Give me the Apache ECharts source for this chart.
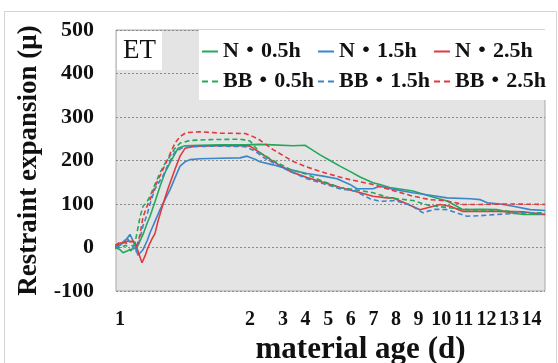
<!DOCTYPE html>
<html>
<head>
<meta charset="utf-8">
<title>ET restraint expansion</title>
<script src="https://cdn.jsdelivr.net/npm/echarts@6.0.0/dist/echarts.min.js"></script>
<style>
  html, body { margin: 0; padding: 0; background: #fff; }
  #main { width: 558px; height: 363px; }
</style>
</head>
<body>
<div id="main"></div>
<script type="text/javascript">
    // 数据: 材龄 (d) 与 拘束膨胀 (μ)
    var seriesNames = ['N・0.5h', 'N・1.5h', 'N・2.5h', 'BB・0.5h', 'BB・1.5h', 'BB・2.5h'];
    var tickDays = [1, 2, 3, 4, 5, 6, 7, 8, 9, 10, 11, 12, 13, 14];

    var ageN05 = [0.962, 1.0, 1.023, 1.077, 1.131, 1.177, 1.208, 1.231, 1.269, 1.308, 1.346, 1.385, 1.446, 1.5, 1.615, 1.769, 1.962, 2.3, 2.7, 3.44, 3.97, 4.19, 4.64, 5.08, 5.52, 5.96, 6.41, 6.98, 7.29, 7.73, 8.75, 9.51, 10.26, 10.96, 11.73, 12.48, 13.05, 13.63, 14.6];
    var valN05 = [0, -5, -12, -5, 0, 30, 55, 72, 105, 141, 172, 195, 228, 234, 235, 236, 236, 237, 236, 234, 235, 228, 213, 200, 187, 175, 162, 149, 145, 138, 130, 118, 107, 87, 88, 87, 80, 76, 76];

    var ageN15 = [0.962, 1.0, 1.038, 1.077, 1.108, 1.138, 1.177, 1.208, 1.231, 1.269, 1.308, 1.346, 1.385, 1.423, 1.462, 1.5, 1.538, 1.615, 1.769, 1.923, 1.977, 2.15, 2.3, 2.7, 3.31, 4.06, 4.77, 5.39, 5.96, 6.27, 6.98, 7.29, 7.96, 8.75, 9.51, 10.26, 11.28, 11.73, 12.04, 12.61, 13.19, 13.94, 14.6];
    var valN15 = [2, 5, 15, 30, 10, -18, -5, 15, 34, 60, 87, 110, 133, 160, 187, 197, 202, 204, 205, 206, 210, 203, 197, 190, 179, 170, 164, 158, 145, 135, 135, 141, 133, 126, 120, 114, 112, 110, 103, 100, 95, 87, 85];

    var ageN25 = [0.962, 1.0, 1.062, 1.115, 1.146, 1.169, 1.192, 1.215, 1.246, 1.269, 1.292, 1.331, 1.369, 1.423, 1.462, 1.5, 1.577, 1.769, 1.962, 2.0, 2.36, 2.7, 3.31, 4.06, 4.77, 5.52, 6.27, 6.98, 7.6, 7.88, 8.5, 9.06, 9.95, 10.4, 10.96, 11.73, 12.48, 13.63, 14.6];
    var valN25 = [0, 10, 15, 12, -15, -35, -20, 0, 20, 32, 60, 100, 135, 180, 210, 228, 233, 234, 234, 233, 215, 198, 175, 161, 150, 138, 128, 118, 114, 114, 100, 87, 99, 95, 83, 83, 83, 82, 76];

    var ageBB05 = [0.962, 1.0, 1.046, 1.085, 1.115, 1.131, 1.154, 1.177, 1.208, 1.231, 1.269, 1.308, 1.346, 1.385, 1.423, 1.462, 1.538, 1.692, 1.923, 2.0, 2.3, 2.7, 3.31, 4.06, 4.77, 5.52, 6.27, 6.98, 7.73, 8.75, 9.51, 10.26, 10.96, 11.73, 12.48, 13.63, 14.6];
    var valBB05 = [-2, 0, 5, -8, 10, 34, 70, 95, 105, 118, 145, 172, 193, 210, 228, 240, 246, 248, 249, 245, 218, 200, 180, 168, 152, 138, 132, 126, 114, 108, 96, 92, 88, 84, 86, 80, 80];

    var ageBB15 = [0.962, 1.0, 1.054, 1.092, 1.123, 1.154, 1.177, 1.208, 1.231, 1.269, 1.331, 1.369, 1.423, 1.485, 1.577, 1.769, 1.962, 2.15, 2.45, 2.7, 3.31, 4.06, 4.77, 5.52, 6.19, 6.85, 7.29, 7.96, 8.62, 9.19, 9.73, 10.26, 11.14, 11.73, 12.48, 13.19, 13.94, 14.6];
    var valBB15 = [0, 5, 22, 5, -10, 20, 50, 75, 100, 135, 165, 190, 220, 230, 232, 233, 232, 222, 205, 195, 175, 158, 147, 135, 130, 112, 106, 108, 98, 80, 88, 87, 72, 73, 76, 78, 80, 76];

    var ageBB25 = [0.962, 1.0, 1.054, 1.1, 1.131, 1.154, 1.177, 1.208, 1.231, 1.277, 1.331, 1.385, 1.423, 1.462, 1.508, 1.615, 1.769, 1.962, 2.0, 2.24, 2.7, 3.44, 4.06, 4.64, 5.3, 5.96, 6.98, 7.73, 8.75, 9.51, 10.26, 10.96, 11.73, 13.05, 14.6];
    var valBB25 = [5, 12, 10, 15, 5, 30, 70, 95, 110, 145, 180, 215, 240, 255, 264, 266, 263, 262, 258, 250, 225, 198, 185, 175, 165, 156, 145, 133, 118, 110, 107, 99, 99, 100, 99];

    // 横轴不是等间距: 1~2日 拉开, 之后线性
    var knotDays = [1, 2, 3, 14];
    var knotPos = [0, 130, 163, 411.6];
    function toAxis(d) {
        var i = 0;
        if (d > knotDays[knotDays.length - 1]) i = knotDays.length - 2;
        else while (i < knotDays.length - 2 && d > knotDays[i + 1]) i++;
        var k = (knotPos[i + 1] - knotPos[i]) / (knotDays[i + 1] - knotDays[i]);
        return knotPos[i] + (d - knotDays[i]) * k;
    }
    function pairs(ages, vals) {
        var out = [];
        for (var i = 0; i < ages.length; i++) out.push([toAxis(ages[i]), vals[i]]);
        return out;
    }

    var green = '#25a85c', blue = '#3a86c8', red = '#e0393e';
    var serif = 'Liberation Serif, Times New Roman, Noto Sans CJK JP, serif';
    var solidIcon = 'path://M0,0H16V2H0Z';
    var dashIcon = 'path://M0,0H6V2H0Z M10,0H16V2H10Z';

    function line(name, data, color, dashed) {
        return {
            name: name,
            type: 'line',
            data: data,
            symbol: 'none',
            animation: false,
            lineStyle: { color: color, width: 1.6, type: dashed ? [5, 3] : 'solid' },
            itemStyle: { color: color }
        };
    }
    function legendRow(names, icon, top, padding) {
        return {
            data: names.map(function (n) { return { name: n, icon: icon }; }),
            left: 199, top: top,
            orient: 'horizontal',
            backgroundColor: '#fff',
            padding: padding,
            itemGap: 1, itemWidth: 16, itemHeight: 2,
            textStyle: {
                fontFamily: serif, fontWeight: 'bold', fontSize: 22, color: '#111',
                width: 94, overflow: 'truncate', lineHeight: 27
            }
        };
    }

    var myChart = echarts.init(document.getElementById('main'));
    myChart.setOption({
        backgroundColor: '#fff',
        animation: false,
        graphic: [{
            type: 'rect', left: 2, top: 9, silent: true,
            shape: { width: 552, height: 352 },
            style: { fill: 'none', stroke: '#d4d4d4', lineWidth: 1 }
        }],
        title: {
            text: 'ET', left: 117, top: 31,
            backgroundColor: '#fff', padding: [6, 6, 6, 6],
            textStyle: { fontFamily: serif, fontWeight: 'normal', fontSize: 27, color: '#111' }
        },
        legend: [
            legendRow(seriesNames.slice(0, 3), solidIcon, 30, [8, 0, 2, 3]),
            legendRow(seriesNames.slice(3, 6), dashIcon, 67, [1, 0, 5, 3])
        ],
        grid: {
            left: 116, right: 13, top: 30, bottom: 72,
            outerBoundsMode: 'none',
            show: true, backgroundColor: '#e4e4e4',
            borderColor: '#a8a8a8', borderWidth: 1
        },
        xAxis: {
            type: 'value',
            min: -4, max: 425,
            name: 'material age (d)',
            nameLocation: 'middle', nameGap: 42,
            nameTextStyle: { fontFamily: serif, fontWeight: 'bold', fontSize: 31, color: '#111', padding: [0, 0, 0, 60] },
            axisLine: { show: false },
            axisTick: { show: false },
            splitLine: { show: false },
            axisLabel: {
                customValues: tickDays.map(toAxis),
                formatter: function (v) {
                    for (var i = 0; i < tickDays.length; i++) {
                        if (Math.abs(toAxis(tickDays[i]) - v) < 0.5) return String(tickDays[i]);
                    }
                    return '';
                },
                margin: 19,
                fontFamily: serif, fontWeight: 'bold', fontSize: 20, color: '#111'
            }
        },
        yAxis: {
            type: 'value',
            min: -100, max: 500, interval: 100,
            name: 'Restraint expansion (μ)',
            nameLocation: 'middle', nameGap: 67,
            nameTextStyle: { fontFamily: serif, fontWeight: 'bold', fontSize: 27, color: '#111' },
            axisLine: { show: false },
            axisTick: { show: false },
            axisLabel: { margin: 22, fontFamily: serif, fontWeight: 'bold', fontSize: 22, color: '#111' },
            splitLine: { lineStyle: { color: '#8c8c8c', type: [2, 2], width: 1 } }
        },
        series: [
            line(seriesNames[0], pairs(ageN05, valN05), green, false),
            line(seriesNames[1], pairs(ageN15, valN15), blue, false),
            line(seriesNames[2], pairs(ageN25, valN25), red, false),
            line(seriesNames[3], pairs(ageBB05, valBB05), green, true),
            line(seriesNames[4], pairs(ageBB15, valBB15), blue, true),
            line(seriesNames[5], pairs(ageBB25, valBB25), red, true)
        ]
    });
</script>
</body>
</html>
